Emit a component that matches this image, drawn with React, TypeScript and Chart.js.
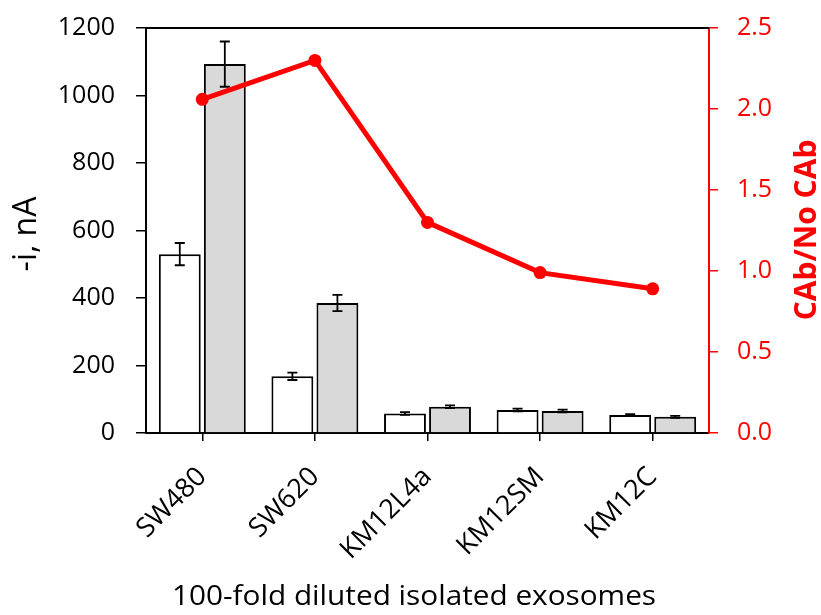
import React, { useEffect, useRef } from "react";
import { Chart, registerables } from "chart.js";

Chart.register(...registerables);

const categories = ["SW480", "SW620", "KM12L4a", "KM12SM", "KM12C"];
const noCAb = [530, 168, 58, 68, 53];
const noCAbErr = [33, 11, 4, 4, 3];
const withCAb = [1093, 385, 78, 65, 48];
const withCAbErr = [67, 24, 4, 4, 3];
const ratio = [2.06, 2.3, 1.3, 0.99, 0.89];

const FONT = "'Open Sans', sans-serif";
const RED = "#ff0000";

// Whiskers for the bar series, drawn right after each bar dataset.
const errorBars = {
  id: "errorBars",
  afterDatasetDraw(chart: any, args: any) {
    const ds = chart.data.datasets[args.index];
    if (!ds.errors) return;
    const meta = args.meta;
    const y = chart.scales.y;
    const ctx = chart.ctx;
    ctx.save();
    ctx.strokeStyle = "#000";
    ctx.lineWidth = 1.8;
    meta.data.forEach((bar: any, i: number) => {
      const v = ds.data[i];
      const e = ds.errors[i];
      const x = bar.x;
      const yTop = y.getPixelForValue(v + e);
      const yBot = y.getPixelForValue(v - e);
      const cap = 5;
      ctx.beginPath();
      ctx.moveTo(x, yTop);
      ctx.lineTo(x, yBot);
      ctx.moveTo(x - cap, yTop);
      ctx.lineTo(x + cap, yTop);
      ctx.moveTo(x - cap, yBot);
      ctx.lineTo(x + cap, yBot);
      ctx.stroke();
    });
    ctx.restore();
  },
};

// Top frame line and the three axis titles.
const frameAndTitles = {
  id: "frameAndTitles",
  afterDraw(chart: any) {
    const { ctx, chartArea } = chart;
    ctx.save();
    ctx.strokeStyle = "#000";
    ctx.lineWidth = 2;
    ctx.beginPath();
    ctx.moveTo(chartArea.left - 1, chartArea.top);
    ctx.lineTo(chartArea.right, chartArea.top);
    ctx.stroke();

    ctx.fillStyle = "#000";
    ctx.textAlign = "center";
    ctx.textBaseline = "middle";

    // x-axis title, fitted to its span under the plot
    const xTitle = "100-fold diluted isolated exosomes";
    ctx.font = `28px ${FONT}`;
    const w = ctx.measureText(xTitle).width;
    ctx.save();
    ctx.translate(414, 597);
    ctx.scale(484 / w, 1);
    ctx.fillText(xTitle, 0, 0);
    ctx.restore();

    ctx.save();
    ctx.translate(27, 234);
    ctx.rotate(-Math.PI / 2);
    ctx.font = `32px ${FONT}`;
    ctx.fillText("-i, nA", 0, 0);
    ctx.restore();

    ctx.save();
    ctx.translate(807, 230);
    ctx.rotate(-Math.PI / 2);
    ctx.fillStyle = RED;
    ctx.font = `bold 30px ${FONT}`;
    ctx.fillText("CAb/No CAb", 0, 0);
    ctx.restore();
    ctx.restore();
  },
};

export default function App() {
  const ref = useRef<HTMLCanvasElement>(null);

  useEffect(() => {
    document.body.style.margin = "0";
    const chart = new Chart(ref.current!, {
      type: "bar",
      data: {
        labels: categories,
        datasets: [
          {
            type: "line",
            label: "CAb/No CAb",
            data: ratio,
            yAxisID: "y1",
            borderColor: RED,
            backgroundColor: RED,
            borderWidth: 5,
            pointRadius: 6.5,
            pointBackgroundColor: RED,
            pointBorderWidth: 0,
            order: 0,
          } as any,
          {
            label: "No CAb",
            data: noCAb,
            errors: noCAbErr,
            yAxisID: "y",
            backgroundColor: "#ffffff",
            borderColor: "#000",
            borderWidth: 2,
            categoryPercentage: 0.8,
            barPercentage: 0.93,
            order: 1,
          } as any,
          {
            label: "CAb",
            data: withCAb,
            errors: withCAbErr,
            yAxisID: "y",
            backgroundColor: "#d9d9d9",
            borderColor: "#000",
            borderWidth: 2,
            categoryPercentage: 0.8,
            barPercentage: 0.93,
            order: 1,
          } as any,
        ],
      },
      options: {
        animation: false,
        responsive: false,
        layout: { padding: { top: 28, left: 0, right: 0, bottom: 0 } },
        plugins: { legend: { display: false }, tooltip: { enabled: false } },
        scales: {
          x: {
            offset: true,
            grid: {
              offset: false,
              drawOnChartArea: false,
              color: "#000",
              tickLength: 8,
              lineWidth: 1.5,
            },
            border: { color: "#000", width: 2 },
            ticks: {
              color: "#000",
              font: { family: FONT, size: 27 },
              minRotation: 45,
              maxRotation: 45,
              padding: 20,
            },
            afterFit(scale: any) {
              scale.height = 182;
              scale.paddingLeft = 0;
              scale.paddingRight = 0;
            },
          },
          y: {
            position: "left",
            min: 0,
            max: 1200,
            grid: {
              drawOnChartArea: false,
              color: "#000",
              tickLength: 10,
              lineWidth: 1.5,
            },
            border: { color: "#000", width: 2 },
            ticks: {
              stepSize: 200,
              color: "#000",
              font: { family: FONT, size: 25 },
              padding: 21,
              callback: (v: any) => String(v),
            },
            afterFit(scale: any) {
              scale.width = 146;
              scale.paddingTop = 0;
              scale.paddingBottom = 0;
            },
          },
          y1: {
            position: "right",
            min: 0,
            max: 2.5,
            grid: {
              drawOnChartArea: false,
              color: RED,
              tickLength: 9,
              lineWidth: 1.5,
            },
            border: { color: RED, width: 2 },
            ticks: {
              stepSize: 0.5,
              color: RED,
              font: { family: FONT, size: 25 },
              padding: 19,
              callback: (v: any) => Number(v).toFixed(1),
            },
            afterFit(scale: any) {
              scale.width = 112;
              scale.paddingTop = 0;
              scale.paddingBottom = 0;
            },
          },
        },
      },
      plugins: [errorBars, frameAndTitles],
    });
    return () => chart.destroy();
  }, []);

  return <canvas ref={ref} width={821} height={615} style={{ display: "block" }} />;
}
